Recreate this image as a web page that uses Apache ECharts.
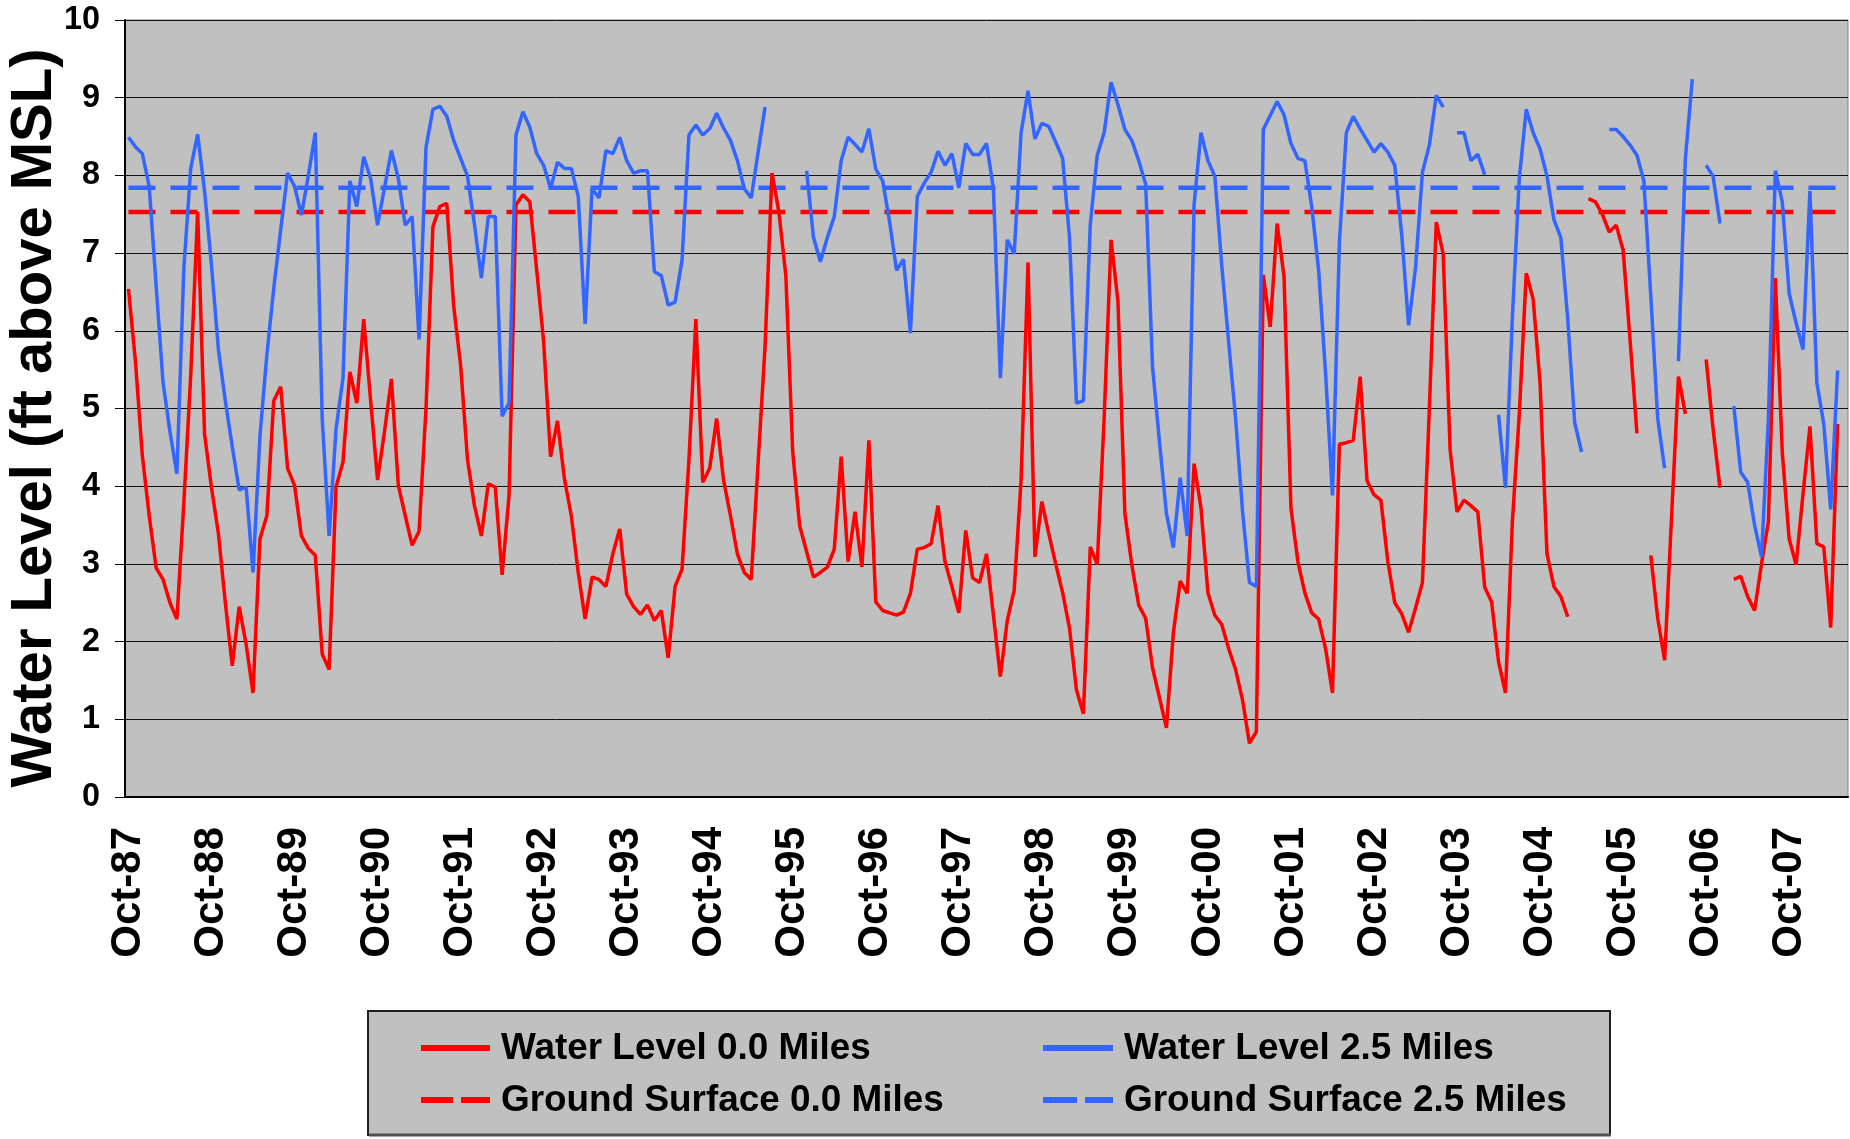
<!DOCTYPE html>
<html>
<head>
<meta charset="utf-8">
<script src="https://cdn.jsdelivr.net/npm/echarts@6/dist/echarts.min.js"></script>
<style>
  html, body { margin: 0; padding: 0; background: #ffffff; }
  #chart { width: 1850px; height: 1139px; }
</style>
</head>
<body>
<div id="chart"></div>
<script>
// ---- Data (monthly readings, Oct-87 .. Jun-08) ----
const startYear = 1987, startMonth = 9; // October (0-based)
const monthCount = 249;
const monthNames = ['Jan','Feb','Mar','Apr','May','Jun','Jul','Aug','Sep','Oct','Nov','Dec'];
const categories = [];
for (let i = 0; i < monthCount; i++) {
  const m = (startMonth + i) % 12;
  const y = startYear + Math.floor((startMonth + i) / 12);
  categories.push(monthNames[m] + '-' + String(y % 100).padStart(2, '0'));
}

// Water level at 0.0 miles (ft above MSL), one row per water year (Oct..Sep)
const waterLevel00 = [
  6.54, 5.62, 4.4, 3.62, 2.95, 2.80, 2.5, 2.29, 3.78, 5.43, 7.53, 4.67,
  3.98, 3.39, 2.5, 1.69, 2.45, 1.97, 1.34, 3.32, 3.62, 5.10, 5.28, 4.23,
  4.01, 3.36, 3.2, 3.11, 1.84, 1.64, 3.99, 4.31, 5.47, 5.07, 6.15, 5.1,
  4.08, 4.7, 5.38, 4.01, 3.62, 3.24, 3.42, 5.0, 7.34, 7.6, 7.64, 6.32,
  5.56, 4.34, 3.75, 3.36, 4.03, 3.99, 2.86, 3.88, 7.62, 7.75, 7.66, 6.78,
  5.86, 4.38, 4.84, 4.1, 3.62, 2.89, 2.29, 2.83, 2.80, 2.71, 3.13, 3.45,
  2.61, 2.45, 2.35, 2.47, 2.27, 2.4, 1.79, 2.71, 2.93, 4.34, 6.15, 4.05,
  4.23, 4.87, 4.08, 3.62, 3.13, 2.89, 2.80, 4.31, 5.8, 8.03, 7.53, 6.71,
  4.44, 3.49, 3.16, 2.83, 2.89, 2.96, 3.19, 4.38, 3.03, 3.67, 2.96, 4.59,
  2.51, 2.40, 2.37, 2.34, 2.38, 2.62, 3.19, 3.21, 3.26, 3.75, 3.03, 2.71,
  2.37, 3.43, 2.82, 2.76, 3.13, 2.34, 1.55, 2.27, 2.66, 4.08, 6.88, 3.09,
  3.8, 3.39, 3.0, 2.63, 2.17, 1.38, 1.07, 3.22, 2.99, 4.87, 7.17, 6.38,
  3.65, 2.99, 2.47, 2.3, 1.66, 1.28, 0.89, 2.11, 2.78, 2.62, 4.29, 3.72,
  2.63, 2.34, 2.22, 1.91, 1.64, 1.25, 0.69, 0.84, 6.72, 6.05, 7.38, 6.7,
  3.72, 3.03, 2.63, 2.37, 2.29, 1.91, 1.34, 4.54, 4.56, 4.59, 5.41, 4.07,
  3.89, 3.82, 3.03, 2.5, 2.36, 2.12, 2.43, 2.76, 5.0, 7.4, 6.99, 4.47,
  3.67, 3.82, 3.75, 3.67, 2.7, 2.51, 1.74, 1.34, 3.55, 4.93, 6.74, 6.41,
  5.33, 3.13, 2.71, 2.58, 2.32, null, null, 7.7, 7.66, 7.5, 7.27, 7.36,
  7.04, 5.89, 4.68, null, 3.11, 2.3, 1.76, 3.6, 5.41, 4.93, null, null,
  5.63, 4.74, 3.98, null, 2.8, 2.84, 2.58, 2.4, 3.0, 3.55, 6.68, 4.44,
  3.32, 2.99, 3.9, 4.77, 3.26, 3.22, 2.18, 4.8, null
];

// Water level at 2.5 miles (ft above MSL)
const waterLevel25 = [
  8.49, 8.37, 8.28, 7.86, 6.58, 5.33, 4.7, 4.16, 6.8, 8.09, 8.53, 7.8,
  6.84, 5.76, 5.1, 4.51, 3.95, 3.99, 2.89, 4.64, 5.69, 6.55, 7.3, 8.03,
  7.86, 7.49, 8.0, 8.55, 4.87, 3.36, 4.74, 5.39, 7.93, 7.6, 8.24, 7.96,
  7.36, 7.84, 8.32, 7.96, 7.36, 7.47, 5.89, 8.36, 8.85, 8.89, 8.76, 8.45,
  8.22, 7.99, 7.37, 6.68, 7.47, 7.47, 4.9, 5.07, 8.52, 8.82, 8.62, 8.28,
  8.13, 7.83, 8.17, 8.09, 8.09, 7.73, 6.09, 7.83, 7.71, 8.32, 8.28, 8.49,
  8.19, 8.03, 8.06, 8.06, 6.76, 6.71, 6.33, 6.37, 6.91, 8.52, 8.65, 8.52,
  8.6, 8.8, 8.61, 8.45, 8.19, 7.83, 7.71, 8.3, 8.88, null, null, null,
  null, null, 8.06, 7.2, 6.89, 7.2, 7.47, 8.19, 8.49, 8.4, 8.3, 8.6,
  8.08, 7.93, 7.4, 6.78, 6.92, 5.97, 7.73, 7.9, 8.04, 8.31, 8.13, 8.28,
  7.84, 8.41, 8.27, 8.27, 8.41, 7.83, 5.39, 7.17, 6.99, 8.55, 9.09, 8.47,
  8.67, 8.63, 8.43, 8.22, 7.2, 5.07, 5.1, 7.37, 8.26, 8.55, 9.2, 8.91,
  8.59, 8.45, 8.19, 7.89, 5.53, 4.57, 3.65, 3.21, 4.11, 3.36, 7.63, 8.55,
  8.19, 7.99, 6.84, 5.85, 4.87, 3.68, 2.76, 2.71, 8.59, 8.77, 8.95, 8.78,
  8.41, 8.22, 8.19, 7.6, 6.78, 5.46, 3.88, 7.14, 8.55, 8.76, 8.6, 8.45,
  8.3, 8.41, 8.3, 8.13, 7.24, 6.07, 6.81, 8.04, 8.39, 9.03, 8.88, null,
  8.55, 8.55, 8.19, 8.27, 8.01, null, 4.92, 3.98, 6.18, 7.96, 8.85, 8.55,
  8.34, 7.99, 7.43, 7.2, 6.15, 4.82, 4.44, null, null, null, 8.59, 8.59,
  8.5, 8.39, 8.26, 7.93, 6.45, 4.87, 4.23, null, 5.61, 8.22, 9.24, null,
  8.13, 7.99, 7.38, null, 5.03, 4.18, 4.05, 3.5, 3.09, 4.87, 8.06, 7.66,
  6.48, 6.1, 5.76, 7.8, 5.33, 4.8, 3.7, 5.49, null
];

// Ground surface elevations (ft above MSL), drawn over the record period
const groundSurface00 = 7.53;
const groundSurface25 = 7.84;
const recordExtent = [0, 247]; // first and last monthly index with readings

const yTicks = [0, 1, 2, 3, 4, 5, 6, 7, 8, 9, 10];
const yTitle = 'Water Level (ft above MSL)';

const names = ['Water Level 0.0 Miles', 'Water Level 2.5 Miles', 'Ground Surface 0.0 Miles', 'Ground Surface 2.5 Miles'];
const RED = '#ff0000', BLUE = '#3366ff';
const WIDE = "'Liberation Sans', Arial, sans-serif";

// ---- Font fitting: prefer a narrow bold face, else shrink a regular bold face to fit ----
const measureCtx = document.createElement('canvas').getContext('2d');
function widthOf(font, text) { measureCtx.font = font; return measureCtx.measureText(text).width; }
function available(family) {
  const t = 'Water Level 0.0 Miles WMmli10';
  for (const fb of ['monospace', 'serif']) {
    if (Math.abs(widthOf('bold 100px ' + family + ', ' + fb, t) - widthOf('bold 100px ' + fb, t)) > 0.5) return true;
  }
  return false;
}
function fitFont(text, targetWidth, maxSize) {
  const candidates = ["'Liberation Sans Narrow'", "'Arial Narrow'", "'Liberation Sans'", 'Arial', 'sans-serif'];
  for (const fam of candidates) {
    if (fam !== 'sans-serif' && !available(fam)) continue;
    const w = widthOf('bold 100px ' + fam, text);
    const size = Math.min(maxSize, Math.round(targetWidth / w * 1000) / 10);
    return { family: fam, size: size };
  }
}
const legendFont = fitFont(names[0], 370, 44);
const yLabelFont = fitFont('10', 36, 37);
const titleFont = fitFont(yTitle, 741, 58);

const chart = echarts.init(document.getElementById('chart'), null, { renderer: 'canvas' });

// Legend drawn as graphic elements (line samples + labels) inside a grey box
const legendRows = [1048, 1100];
const legendCols = [{ x1: 421, x2: 490, tx: 501 }, { x1: 1043, x2: 1113, tx: 1124 }];
const legendEntries = [
  { name: names[0], color: RED, dash: null, col: 0, row: 0 },
  { name: names[1], color: BLUE, dash: null, col: 1, row: 0 },
  { name: names[2], color: RED, dash: [32, 8], col: 0, row: 1 },
  { name: names[3], color: BLUE, dash: [34, 8], col: 1, row: 1 }
];
const graphics = [{
  type: 'rect', z: 0,
  shape: { x: 368, y: 1011, width: 1242, height: 124 },
  style: { fill: '#c0c0c0', stroke: '#202020', lineWidth: 2 }
}, {
  type: 'line', z: 1,
  shape: { x1: 369, y1: 1135, x2: 1611, y2: 1135 },
  style: { stroke: '#505050', lineWidth: 3 }
}, {
  // vertical axis title
  type: 'text', z: 2, x: 35, y: 418, rotation: Math.PI / 2,
  style: {
    text: yTitle, fill: '#000', align: 'center', verticalAlign: 'middle',
    fontFamily: titleFont.family, fontWeight: 'bold', fontSize: titleFont.size
  }
}];
legendEntries.forEach(e => {
  const c = legendCols[e.col], y = legendRows[e.row];
  graphics.push({
    type: 'line', z: 2,
    shape: { x1: c.x1, y1: y, x2: c.x2, y2: y },
    style: { stroke: e.color, lineWidth: 6, lineDash: e.dash || null }
  });
  graphics.push({
    type: 'text', z: 2, x: c.tx, y: y + 1,
    style: {
      text: e.name, fill: '#000', align: 'left', verticalAlign: 'middle',
      fontFamily: legendFont.family, fontWeight: 'bold', fontSize: legendFont.size
    }
  });
});

chart.setOption({
  animation: false,
  backgroundColor: '#ffffff',
  grid: {
    left: 125, right: 2, top: 20, bottom: 342,
    outerBoundsMode: 'none', containLabel: false,
    show: true, backgroundColor: '#c0c0c0', borderColor: '#808080', borderWidth: 1
  },
  graphic: graphics,
  xAxis: {
    type: 'category',
    data: categories,
    boundaryGap: true,
    axisLine: { lineStyle: { color: '#000', width: 2 } },
    axisTick: { interval: 11, length: 10, lineStyle: { color: '#000', width: 1 } },
    axisLabel: {
      interval: 11, rotate: 90, margin: 30,
      fontFamily: WIDE, fontWeight: 'bold', fontSize: 42, color: '#000'
    },
    splitLine: { show: false }
  },
  yAxis: {
    type: 'value',
    min: yTicks[0], max: yTicks[yTicks.length - 1], interval: 1,
    axisLine: { show: true, lineStyle: { color: '#000', width: 2 } },
    axisTick: { show: true, length: 10, lineStyle: { color: '#000', width: 1 } },
    axisLabel: { margin: 25, fontFamily: yLabelFont.family, fontWeight: 'bold', fontSize: yLabelFont.size, color: '#000' },
    splitLine: { show: true, lineStyle: { color: '#111', width: 1 } }
  },
  series: [
    {
      name: names[0], type: 'line', data: waterLevel00, symbol: 'none', connectNulls: false,
      lineStyle: { color: RED, width: 3.5 }, itemStyle: { color: RED }, z: 3
    },
    {
      name: names[1], type: 'line', data: waterLevel25, symbol: 'none', connectNulls: false,
      lineStyle: { color: BLUE, width: 3.5 }, itemStyle: { color: BLUE }, z: 3
    },
    {
      name: names[2], type: 'line', symbol: 'none',
      data: [[recordExtent[0], groundSurface00], [recordExtent[1], groundSurface00]],
      lineStyle: { color: RED, width: 4.5, type: [27, 15] }, itemStyle: { color: RED }, z: 2
    },
    {
      name: names[3], type: 'line', symbol: 'none',
      data: [[recordExtent[0], groundSurface25], [recordExtent[1], groundSurface25]],
      lineStyle: { color: BLUE, width: 4.5, type: [27, 15] }, itemStyle: { color: BLUE }, z: 2
    }
  ]
});
</script>
</body>
</html>
